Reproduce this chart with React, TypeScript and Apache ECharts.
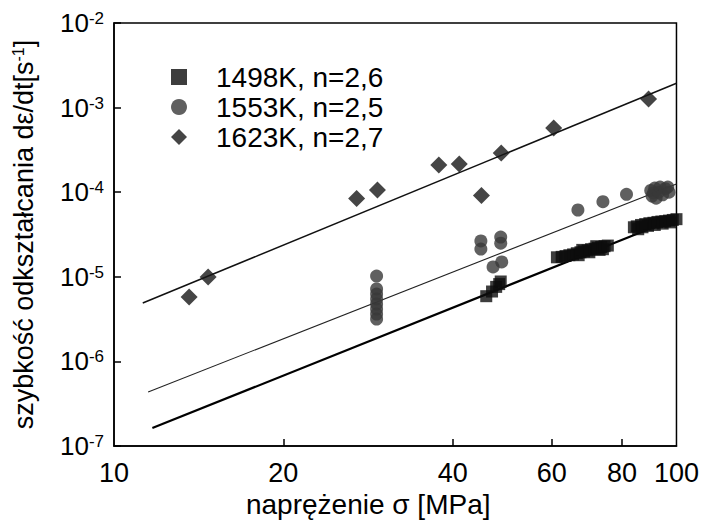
import React, { useEffect, useRef } from "react";
import * as echarts from "echarts";

// ---- data ----
const seriesNames = ["1498K, n=2,6", "1553K, n=2,5", "1623K, n=2,7"];

const points1498: [number, number][] = [
  [45.9, 5.9e-6], [47.0, 6.7e-6], [47.8, 7.6e-6], [48.4, 8.2e-6], [48.7, 8.8e-6],
  [61.3, 1.70e-5], [62.5, 1.72e-5], [63.5, 1.76e-5], [64.5, 1.80e-5], [65.5, 1.84e-5],
  [66.5, 1.90e-5], [67.0, 1.80e-5], [67.5, 1.95e-5], [68.0, 2.08e-5], [68.5, 2.0e-5],
  [69.5, 2.05e-5], [70.0, 1.95e-5], [70.5, 2.12e-5], [71.5, 2.15e-5], [72.0, 2.30e-5],
  [72.5, 2.2e-5], [73.0, 2.08e-5], [73.5, 2.25e-5], [74.0, 2.12e-5], [74.5, 2.3e-5],
  [75.5, 2.34e-5],
  [84.0, 3.85e-5], [85.0, 3.95e-5], [85.5, 3.65e-5], [86.5, 4.1e-5], [87.0, 3.85e-5],
  [88.0, 4.2e-5], [89.0, 4.0e-5], [89.5, 4.3e-5], [91.0, 4.35e-5], [91.5, 4.1e-5],
  [92.5, 4.45e-5], [94.0, 4.5e-5], [94.5, 4.25e-5], [95.5, 4.55e-5], [97.0, 4.62e-5],
  [97.5, 4.4e-5], [98.5, 4.7e-5], [100.0, 4.8e-5]
];

const points1553: [number, number][] = [
  [29.3, 1.02e-5], [29.3, 7.18e-6], [29.3, 6.26e-6], [29.3, 5.47e-6], [29.3, 4.77e-6],
  [29.3, 4.16e-6], [29.3, 3.63e-6], [29.3, 3.17e-6],
  [44.9, 2.65e-5], [44.9, 2.13e-5], [48.7, 2.95e-5], [48.7, 2.5e-5],
  [47.2, 1.31e-5], [48.9, 1.5e-5],
  [66.8, 6.16e-5], [74.0, 7.72e-5], [81.5, 9.45e-5],
  [90.0, 1.05e-4], [90.5, 9.0e-5], [91.0, 9.8e-5], [91.5, 1.12e-4], [92.0, 8.5e-5],
  [93.0, 1.0e-4], [93.5, 1.15e-4], [94.5, 9.3e-5], [95.5, 1.1e-4], [96.5, 1.15e-4],
  [97.0, 1.0e-4]
];

const points1623: [number, number][] = [
  [13.6, 5.77e-6], [14.7, 9.95e-6], [27.0, 8.43e-5], [29.4, 1.06e-4],
  [37.8, 2.1e-4], [41.1, 2.15e-4], [45.0, 9.14e-5], [48.8, 2.9e-4],
  [60.5, 5.74e-4], [89.2, 1.26e-3]
];

const fit1498: [number, number][] = [[11.7, 1.63e-7], [100, 4.95e-5]];
const fit1553: [number, number][] = [[11.5, 4.35e-7], [100, 1.25e-4]];
const fit1623: [number, number][] = [[11.25, 4.9e-6], [100, 1.94e-3]];

const xLabelValues = [10, 20, 40, 60, 80, 100];
const xTickValues = [20, 40, 60, 80];
const yTickValues = [1e-7, 1e-6, 1e-5, 1e-4, 1e-3, 1e-2];

const FONT = "'Liberation Sans', Arial, sans-serif";

export default function App() {
  const ref = useRef<HTMLDivElement>(null);
  useEffect(() => {
    if (!ref.current) return;
    const chart = echarts.init(ref.current, undefined, { renderer: "svg" });
    chart.setOption({
      animation: false,
      backgroundColor: "#fff",
      textStyle: { fontFamily: FONT, color: "#000" },
      grid: {
        left: 114, right: 25, top: 23, bottom: 83,
        show: true, borderColor: "#000", borderWidth: 1.5,
        backgroundColor: "transparent", containLabel: false
      },
      legend: {
        left: 166, top: 58, orient: "vertical",
        itemWidth: 16, itemHeight: 16, itemGap: 2,
        data: seriesNames,
        textStyle: { fontSize: 28, color: "#000", fontFamily: FONT, padding: [0, 0, 0, 24] }
      },
      xAxis: {
        type: "log", logBase: 10, min: 10, max: 100,
        name: "naprężenie σ [MPa]", nameLocation: "middle", nameGap: 35,
        nameTextStyle: { fontSize: 28, color: "#000", fontFamily: FONT, padding: [0, 54, 0, 0] },
        axisLine: { show: true, lineStyle: { color: "#000", width: 1.5 } },
        axisTick: { show: true, inside: true, length: 7, lineStyle: { color: "#000", width: 1.5 }, customValues: xTickValues },
        minorTick: { show: false },
        axisLabel: {
          fontSize: 27, color: "#000", fontFamily: FONT, margin: 13,
          customValues: xLabelValues,
          formatter: (v: number) => String(Math.round(v))
        },
        splitLine: { show: false }
      },
      yAxis: {
        type: "log", logBase: 10, min: 1e-7, max: 1e-2,
        name: "szybkość odkształcania dε/dt[s{sup|-1}]", nameLocation: "middle", nameGap: 77,
        nameRotate: 90,
        nameTextStyle: {
          fontSize: 27, color: "#000", fontFamily: FONT,
          rich: { sup: { fontSize: 16, verticalAlign: "top", color: "#000", fontFamily: FONT } }
        },
        axisLine: { show: true, lineStyle: { color: "#000", width: 1.5 } },
        axisTick: { show: true, inside: true, length: 7, lineStyle: { color: "#000", width: 1.5 }, customValues: yTickValues },
        minorTick: { show: false },
        axisLabel: {
          fontSize: 26, lineHeight: 26, color: "#000", fontFamily: FONT, margin: 10,
          customValues: yTickValues,
          formatter: (v: number) => "10{sup|" + Math.round(Math.log10(v)) + "}",
          rich: { sup: { fontSize: 17, lineHeight: 17, verticalAlign: "top", color: "#000", fontFamily: FONT } }
        },
        splitLine: { show: false }
      },
      series: [
        {
          name: "fit1498", type: "line", data: fit1498, symbol: "none",
          lineStyle: { color: "#000", width: 2.2 }, silent: true, z: 1
        },
        {
          name: "fit1553", type: "line", data: fit1553, symbol: "none",
          lineStyle: { color: "#222", width: 1.1 }, silent: true, z: 1
        },
        {
          name: "fit1623", type: "line", data: fit1623, symbol: "none",
          lineStyle: { color: "#111", width: 1.5 }, silent: true, z: 1
        },
        {
          name: seriesNames[0], type: "scatter", data: points1498, symbol: "rect", symbolSize: 12,
          itemStyle: { color: "#0d0d0d" }, z: 3
        },
        {
          name: seriesNames[1], type: "scatter", data: points1553, symbol: "circle", symbolSize: 13,
          itemStyle: { color: "#383838" }, z: 2
        },
        {
          name: seriesNames[2], type: "scatter", data: points1623, symbol: "diamond", symbolSize: 17,
          itemStyle: { color: "#161616" }, z: 2
        }
      ]
    });
    return () => chart.dispose();
  }, []);
  return (
    <div
      ref={ref}
      style={{ position: "absolute", left: 0, top: 0, width: 702, height: 529 }}
    />
  );
}
